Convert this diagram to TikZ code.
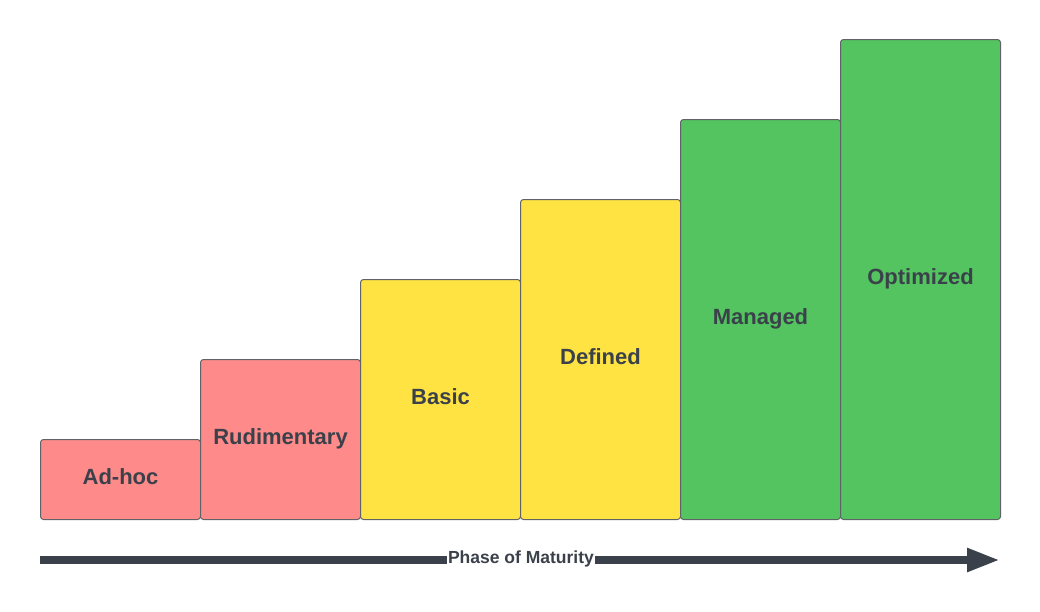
\documentclass[tikz,border=0pt]{standalone}
\usepackage{fontspec}
\setmainfont{Liberation Sans}
\usetikzlibrary{arrows.meta}
\definecolor{txt}{HTML}{3A414A}
\definecolor{edge}{HTML}{5F6368}
\definecolor{redf}{HTML}{FF8A8A}
\definecolor{yelf}{HTML}{FFE342}
\definecolor{grnf}{HTML}{53C45F}
\definecolor{arr}{HTML}{3A414A}
\tikzset{
  stage/.style={draw=edge, line width=1pt, rounded corners=3pt, minimum width=160pt, inner sep=0pt,
    text=txt, font=\fontsize{22}{26}\selectfont\bfseries, anchor=south west,
    text depth=0pt, text height=10pt},
}
\begin{document}
\begin{tikzpicture}[x=1pt,y=-1pt]
\useasboundingbox (0,0) rectangle (1040,611);
\node[stage, fill=redf, minimum height=80pt] (a) at (40,520) {Ad-hoc};
\node[stage, fill=redf, minimum height=160pt] (b) at (200,520) {Rudimentary};
\node[stage, fill=yelf, minimum height=240pt] (c) at (360,520) {Basic};
\node[stage, fill=yelf, minimum height=320pt] (d) at (520,520) {Defined};
\node[stage, fill=grnf, minimum height=400pt] (e) at (680,520) {Managed};
\node[stage, fill=grnf, minimum height=480pt] (f) at (840,520) {Optimized};
\coordinate (s) at (40,560);
\coordinate (t) at (1000,560);
\draw[arr, line width=8pt, -{Triangle[length=33pt,width=22pt]}] (s) -- (t);
\node[fill=white, inner sep=1.5pt, text=txt, font=\fontsize{17.5}{20}\selectfont\bfseries] (lbl) at (521,559) {Phase of Maturity};
\end{tikzpicture}
\end{document}
